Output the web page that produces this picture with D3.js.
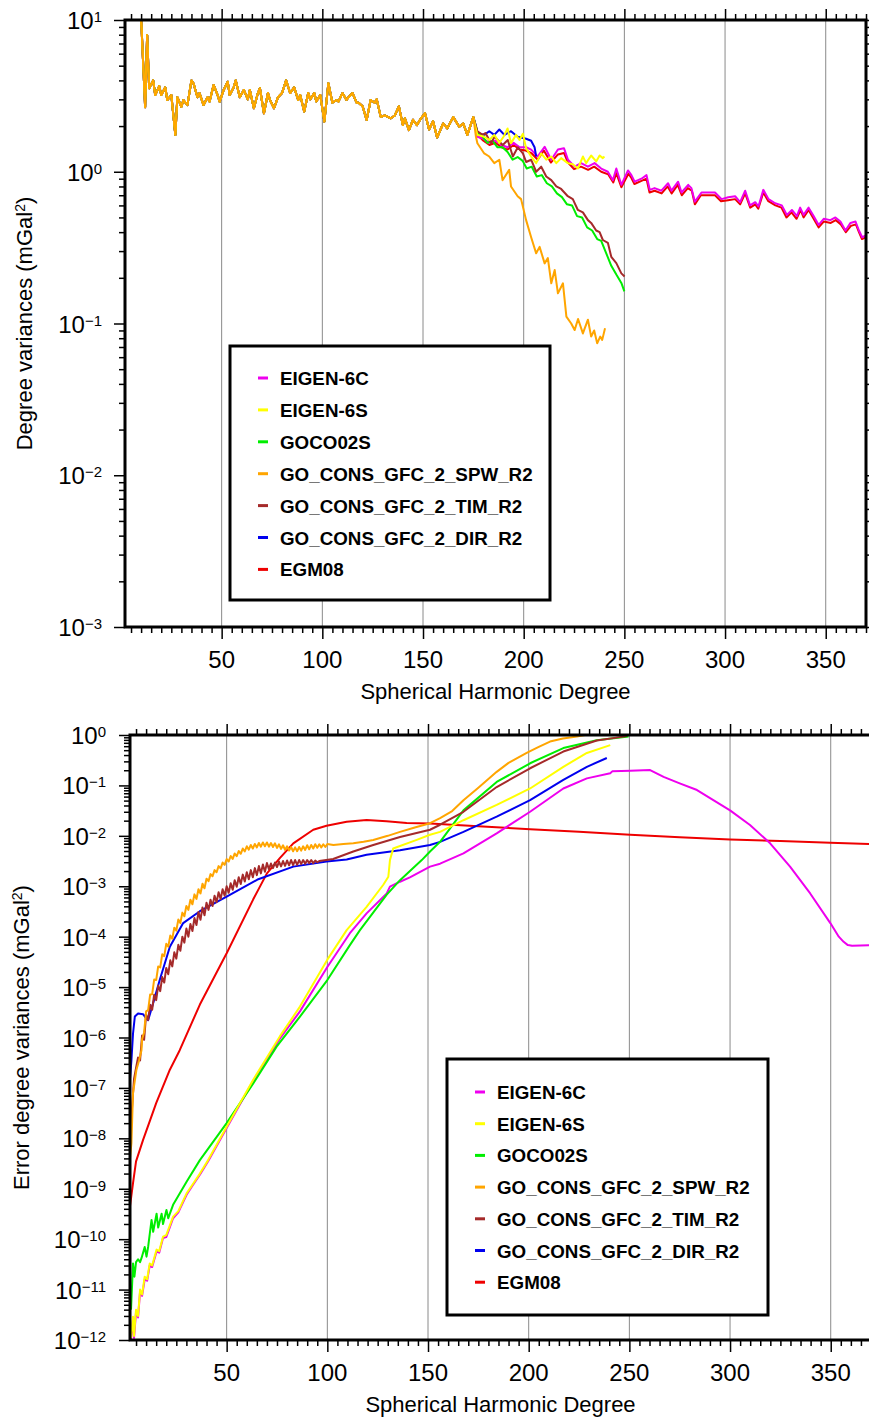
<!DOCTYPE html>
<html>
  <head>
    <meta charset="utf-8">
    <style>
    body { margin: 0; background: #fff; }
    svg text { font-family: "Liberation Sans", Arial, Helvetica, sans-serif; fill: #000; }
    .tick-label { font-size: 24px; }
    .axis-title { font-size: 22px; }
    .legend text { font-size: 18.8px; font-weight: bold; }
    </style>
  </head>
  <body>
    <div id="chart-area"></div>

    <script src="https://d3js.org/d3.v7.min.js"></script>
    <script>
      // Models, in legend order
      const seriesNames = ["EIGEN-6C", "EIGEN-6S", "GOCO02S", "GO_CONS_GFC_2_SPW_R2",
        "GO_CONS_GFC_2_TIM_R2", "GO_CONS_GFC_2_DIR_R2", "EGM08"];
      const seriesColors = ["#ee00ee", "#ffff00", "#00ee00", "#ffa500", "#a52a2a", "#0000ee", "#ee0000"];

      const degreeTicks = [50, 100, 150, 200, 250, 300, 350];
      const topDecades = [1, 0, -1, -2, -3];
      const errDecades = [0, -1, -2, -3, -4, -5, -6, -7, -8, -9, -10, -11, -12];

      // Degree variances (mGal^2): common part up to degree ~175, all models almost identical
      const sharedLow = [[2, 60], [5, 30], [8, 16], [10, 10.3], [12, 2.66], [13, 7.96], [14, 3.55], [16, 4.0],
        [17, 3.2], [19, 3.67], [20, 3.2], [22, 3.6], [23, 2.97], [25, 3.2], [27, 1.75], [28, 3.1], [30, 2.68],
        [31, 2.97], [33, 2.75], [35, 4.0], [36, 3.83], [38, 3.1], [39, 3.3], [41, 2.75], [43, 3.1], [44, 2.9],
        [46, 3.73], [48, 3.2], [49, 2.9], [51, 3.46], [53, 3.92], [54, 3.2], [56, 3.6], [57, 4.0], [59, 3.1],
        [61, 3.46], [63, 3.0], [64, 3.46], [66, 2.62], [68, 3.3], [69, 3.55], [71, 2.43], [73, 3.3], [74, 2.97],
        [76, 2.62], [78, 3.1], [80, 3.3], [82, 4.0], [84, 3.3], [86, 3.6], [88, 2.97], [89, 3.2], [91, 2.49],
        [93, 3.3], [94, 3.0], [96, 3.3], [97, 2.9], [99, 3.2], [101, 2.14], [103, 3.83], [105, 2.85], [107, 2.97],
        [108, 2.9], [110, 3.3], [112, 2.97], [113, 3.1], [115, 3.3], [117, 2.85], [118, 2.85], [120, 2.7],
        [122, 2.19], [124, 2.97], [126, 2.85], [127, 3.0], [129, 2.3], [131, 2.35], [134, 2.25], [136, 2.35],
        [138, 2.7], [140, 2.03], [141, 2.25], [143, 1.88], [145, 2.2], [147, 2.03], [149, 2.25], [151, 2.43],
        [153, 1.9], [155, 2.15], [157, 1.68], [160, 2.08], [162, 1.93], [165, 2.29], [168, 1.98], [170, 2.08],
        [172, 1.75], [175, 2.29]];

      const topEigen6cTail = [[177, 1.7], [180, 1.65], [183, 1.55], [186, 1.6], [189, 1.5], [192, 1.45], [195, 1.55],
        [198, 1.45], [201.2, 1.45], [203.7, 1.4], [206.9, 1.26], [210.4, 1.46], [213.7, 1.2], [217, 1.4],
        [220, 1.43], [222, 1.2], [225.3, 1.08], [228.5, 1.14], [231.9, 1.08], [235.2, 1.14], [238.5, 1.05],
        [241.8, 1.0], [244.3, 0.88], [246, 1.05], [248.5, 0.82], [251.8, 1.02], [253.5, 0.95], [255.1, 0.86],
        [258.5, 0.9], [261, 0.95], [262.6, 0.76], [265, 0.78], [268.4, 0.75], [271.7, 0.84], [273.4, 0.75],
        [276.7, 0.86], [278.4, 0.73], [281.7, 0.82], [283.3, 0.78], [285, 0.635], [288.3, 0.73], [291.6, 0.73],
        [295, 0.73], [298.3, 0.66], [301.6, 0.68], [305, 0.69], [307.5, 0.63], [310, 0.75], [312.4, 0.6],
        [315, 0.63], [316.6, 0.59], [319, 0.76], [321.6, 0.66], [324.9, 0.62], [328.2, 0.6], [330.7, 0.52],
        [333.2, 0.56], [335.7, 0.51], [337.3, 0.58], [339, 0.52], [341.5, 0.58], [344, 0.51], [346.5, 0.446],
        [349, 0.49], [352.3, 0.48], [354.8, 0.5], [357.3, 0.47], [359.8, 0.41], [362.3, 0.46], [364.8, 0.47],
        [366.5, 0.41], [368.1, 0.37], [370, 0.38]];
      const topEigen6sTail = [[177, 1.75], [180.4, 1.7], [182.9, 1.62], [185.4, 1.75], [187.9, 1.55], [190, 1.7],
        [192, 1.93], [193.7, 1.54], [196.2, 1.75], [197.9, 1.62], [199.6, 1.78], [201.2, 1.43], [203.7, 1.26],
        [206.2, 1.14], [208.7, 1.32], [211.2, 1.2], [213.7, 1.26], [216.2, 1.14], [218.6, 1.23], [221.9, 1.14],
        [224.4, 1.12], [226.9, 1.05], [229.4, 1.26], [231, 1.14], [233.5, 1.28], [236, 1.17], [237.7, 1.28],
        [239.3, 1.23], [240.1, 1.26]];
      const topGoco02sTail = [[177, 1.8], [179.6, 1.7], [182, 1.55], [184.5, 1.6], [187, 1.45], [189.5, 1.45],
        [192, 1.35], [194.5, 1.2], [197, 1.25], [199.5, 1.18], [201.5, 1.05], [204, 1.08], [206.5, 0.93],
        [209, 0.95], [211.5, 0.84], [214, 0.8], [216.5, 0.72], [219, 0.68], [221.5, 0.61], [224, 0.6],
        [226.5, 0.51], [229, 0.5], [231.5, 0.43], [234, 0.41], [236.5, 0.36], [238.5, 0.35], [241, 0.29],
        [243.5, 0.24], [246, 0.21], [248.5, 0.185], [250, 0.163]];
      const topSpwTail = [[176.3, 1.7], [177, 1.54], [180.4, 1.32], [182.9, 1.26], [185.4, 1.14], [187.9, 1.2],
        [189.5, 0.88], [192.8, 1.03], [193.7, 0.8], [197, 0.69], [198.7, 0.66], [201.2, 0.48], [203.7, 0.37],
        [206.2, 0.29], [207.9, 0.32], [210.4, 0.249], [212, 0.27], [213.7, 0.184], [215.4, 0.225], [217, 0.158],
        [219.5, 0.184], [221.2, 0.111], [223.6, 0.1], [225.3, 0.0905], [227, 0.107], [229.4, 0.086],
        [231.9, 0.106], [233.5, 0.082], [235, 0.09], [236.5, 0.074], [238, 0.082], [239, 0.078], [240.4, 0.093]];
      const topTimTail = [[177, 1.85], [179.6, 1.75], [181, 1.8], [183.8, 1.54], [185.5, 1.7], [187.1, 1.62],
        [189.6, 1.5], [192.1, 1.62], [194.6, 1.26], [197.1, 1.45], [199.6, 1.32], [201.2, 1.16], [203.7, 1.2],
        [206.2, 1.0], [208.7, 1.08], [211.2, 0.93], [213.7, 0.88], [216.2, 0.8], [218.6, 0.77], [221.9, 0.69],
        [224.4, 0.66], [226.9, 0.56], [229.4, 0.54], [231.9, 0.48], [233.5, 0.46], [236, 0.41], [237.7, 0.4],
        [239.3, 0.355], [241.8, 0.34], [243.5, 0.275], [246, 0.25], [248.5, 0.214], [250.1, 0.204]];
      const topDirTail = [[176.3, 2.0], [177, 1.8], [180.4, 1.75], [182.9, 1.85], [185.4, 1.75], [187.9, 1.9],
        [190.4, 1.75], [193.7, 1.85], [197, 1.7], [201.2, 1.65], [203.7, 1.6], [205.4, 1.45], [206.2, 1.26]];
      const topEgm08Tail = [[177, 1.75], [180, 1.6], [183, 1.5], [186, 1.55], [189, 1.45], [192, 1.4], [195, 1.5],
        [198, 1.4], [201, 1.38], [204, 1.32], [207, 1.2], [210, 1.38], [213.5, 1.15], [217, 1.3], [220, 1.33],
        [222, 1.15], [225, 1.04], [228.5, 1.08], [232, 1.03], [235, 1.08], [238.5, 1.0], [242, 0.96],
        [244.5, 0.85], [246, 0.98], [248.5, 0.79], [252, 0.97], [253.5, 0.91], [255, 0.83], [258.5, 0.87],
        [261, 0.9], [262.5, 0.73], [265, 0.75], [268.5, 0.72], [271.5, 0.8], [273.5, 0.72], [276.5, 0.82],
        [278.5, 0.7], [281.5, 0.78], [283.5, 0.75], [285, 0.61], [288, 0.7], [291.5, 0.7], [295, 0.7],
        [298, 0.64], [301.5, 0.65], [305, 0.66], [307.5, 0.61], [310, 0.72], [312.5, 0.58], [315, 0.61],
        [316.5, 0.57], [319, 0.73], [321.5, 0.64], [325, 0.6], [328, 0.58], [330.5, 0.5], [333, 0.54],
        [335.5, 0.49], [337.5, 0.56], [339, 0.5], [341.5, 0.56], [344, 0.49], [346.5, 0.43], [349, 0.47],
        [352.5, 0.46], [355, 0.48], [357.5, 0.45], [360, 0.4], [362.5, 0.44], [365, 0.45], [366.5, 0.4],
        [368, 0.36], [370, 0.37]];

      // Error degree variances (mGal^2)
      const errEigen6c = [[2.5, 1.05e-12], [3.5, 2.6e-12], [4, 1.1e-12], [5, 3.6e-12], [6, 2.8e-12], [7, 9e-12],
        [8, 7.5e-12], [9.3, 1.6e-11], [10.5, 1.5e-11], [11.8, 3e-11], [13, 2.8e-11], [15.2, 5.7e-11],
        [16.5, 5.4e-11], [18.4, 1.05e-10], [20, 1.1e-10], [23.4, 2.6e-10], [26, 3.4e-10], [30.1, 7.6e-10],
        [33, 1.15e-9], [36.7, 1.9e-9], [40.8, 3.5e-9], [50, 1.6e-8], [63.2, 1.38e-7], [76.4, 9.5e-7],
        [86.4, 3.3e-6], [100, 2.5e-5], [111.2, 1.17e-4], [119.5, 2.9e-4], [129.5, 7.2e-4], [131.1, 9.8e-4],
        [136.1, 1.23e-3], [141, 1.5e-3], [151, 2.45e-3], [156, 2.8e-3], [167.6, 4.5e-3], [184.1, 1.12e-2],
        [200.7, 3.0e-2], [217.2, 8.7e-2], [228.9, 1.38e-1], [240.5, 1.74e-1], [241.5, 1.9e-1], [250.4, 1.95e-1],
        [260.3, 2.02e-1], [267, 1.48e-1], [275, 1.1e-1], [283.6, 8.1e-2], [300, 3.2e-2], [309.9, 1.64e-2],
        [319.9, 7.1e-3], [329.8, 2.45e-3], [339.8, 7.2e-4], [349.8, 1.86e-4], [354, 1e-4], [356.4, 7.9e-5],
        [358.5, 6.8e-5], [360.6, 6.6e-5], [370, 6.8e-5]];
      const errEigen6s = [[2.5, 1.1e-12], [3.5, 2.9e-12], [4, 1.2e-12], [5, 4e-12], [6, 3e-12], [7, 1e-11],
        [8, 8e-12], [9.3, 1.8e-11], [10.5, 1.6e-11], [11.8, 3.3e-11], [13, 3e-11], [15.2, 6.2e-11],
        [16.5, 5.8e-11], [18.4, 1.12e-10], [20, 1.2e-10], [23.4, 2.8e-10], [26, 3.6e-10], [30.1, 8.1e-10],
        [33, 1.2e-9], [36.7, 2e-9], [40.8, 3.7e-9], [50, 1.7e-8], [63.2, 1.45e-7], [76.4, 1.05e-6],
        [86.4, 4.1e-6], [100, 3.5e-5], [109.6, 1.35e-4], [119.5, 3.9e-4], [127.8, 1.07e-3], [130.3, 1.55e-3],
        [131.1, 3.3e-3], [132.7, 5.6e-3], [144.4, 8.3e-3], [151, 1.05e-2], [156, 1.2e-2], [167.6, 2.04e-2],
        [184.1, 4.1e-2], [200.7, 8.7e-2], [217.2, 2.34e-1], [228.9, 4.4e-1], [240.5, 6.3e-1]];
      const errGoco02s = [[2.5, 4e-12], [3.5, 3.3e-11], [4.2, 1.8e-11], [5, 3.5e-11], [6, 4e-11], [7, 3.5e-11],
        [7.7, 4.2e-11], [9.3, 7e-11], [10.2, 4.5e-11], [11, 7e-11], [12.7, 2.4e-10], [13.5, 1.4e-10],
        [15.2, 3.2e-10], [16, 1.7e-10], [17.7, 3.2e-10], [18.4, 2e-10], [20.1, 3.8e-10], [21, 2.6e-10],
        [21.8, 3.2e-10], [23.4, 4.8e-10], [30.1, 1.38e-9], [36.7, 3.7e-9], [50, 2e-8], [63.2, 1.23e-7],
        [74.8, 6.6e-7], [86.4, 2.6e-6], [100, 1.38e-5], [111.2, 6.8e-5], [116.2, 1.35e-4], [129.5, 6.8e-4],
        [136.1, 1.32e-3], [146.9, 3.3e-3], [151, 4.9e-3], [156, 7.6e-3], [167.6, 3.2e-2], [184.1, 1.17e-1],
        [200.7, 2.75e-1], [217.2, 5.5e-1], [233.8, 7.9e-1], [249.6, 9.3e-1]];
      const errSpw = [[2, 4e-9], [2.7, 8e-9], [3.5, 8e-8], [5.2, 2.3e-7], [6.5, 3.5e-7], [7.7, 5.6e-7],
        [8, 9.3e-7], [9, 1.26e-6], [10, 3.3e-6], [11, 3.5e-6], [12, 7.1e-6], [13, 7.2e-6], [14, 1.41e-5],
        [15, 1.38e-5], [16, 2.57e-5], [17, 2.45e-5], [18, 4.47e-5], [19, 4.1e-5], [20, 7.2e-5], [21, 6.3e-5],
        [22, 1.05e-4], [23, 9.1e-5], [24, 1.51e-4], [25, 1.32e-4], [26, 2.19e-4], [27, 1.86e-4], [28, 3.0e-4],
        [29, 2.54e-4], [30, 4.07e-4], [31, 3.4e-4], [32, 5.4e-4], [33, 4.4e-4], [34, 6.9e-4], [35, 5.6e-4],
        [36, 8.7e-4], [37, 7.2e-4], [38, 1.12e-3], [39, 9.1e-4], [40, 1.41e-3], [41, 1.26e-3], [42, 1.74e-3],
        [43, 1.58e-3], [44, 2.09e-3], [45, 1.9e-3], [46, 2.51e-3], [47, 2.26e-3], [48, 2.95e-3], [49, 2.66e-3],
        [50, 3.47e-3], [51, 3.09e-3], [52, 3.98e-3], [53, 3.5e-3], [54, 4.47e-3], [55, 3.94e-3], [56, 5.0e-3],
        [57, 4.4e-3], [58, 5.6e-3], [59, 4.9e-3], [60, 6.2e-3], [61, 5.3e-3], [62, 6.6e-3], [63, 5.6e-3],
        [64, 6.9e-3], [65, 5.9e-3], [66, 7.2e-3], [67, 6.1e-3], [68, 7.4e-3], [69, 6.2e-3], [70, 7.4e-3],
        [71, 6.1e-3], [72, 7.2e-3], [73, 6.0e-3], [74, 7.1e-3], [75, 5.75e-3], [76, 6.8e-3], [77, 5.5e-3],
        [78, 6.5e-3], [79, 5.25e-3], [80, 6.2e-3], [81, 5.1e-3], [82, 6.0e-3], [83, 4.95e-3], [84, 5.9e-3],
        [85, 4.95e-3], [86, 6.0e-3], [87, 5.1e-3], [88, 6.2e-3], [89, 5.25e-3], [90, 6.5e-3], [91, 5.4e-3],
        [92, 6.6e-3], [93, 5.6e-3], [94, 6.8e-3], [95, 5.8e-3], [96, 6.8e-3], [97, 5.9e-3], [98, 6.8e-3],
        [99, 6.0e-3], [100, 6.9e-3], [103, 6.6e-3], [108, 6.9e-3], [112.9, 7.1e-3], [118, 7.6e-3],
        [122.8, 8.3e-3], [130, 1.0e-2], [136.1, 1.2e-2], [143, 1.45e-2], [151, 1.78e-2], [156, 2.24e-2],
        [162, 3.1e-2], [167.6, 5.1e-2], [175, 9e-2], [184.1, 1.86e-1], [190, 2.8e-1], [199, 4.4e-1],
        [205, 5.8e-1], [210.6, 7.4e-1], [217, 8.5e-1], [223.9, 9.3e-1], [228, 1.0]];
      const errTim = [[2, 1.2e-8], [3, 4e-8], [4, 1.5e-7], [5, 2.5e-7], [6, 4e-7], [7, 3.5e-7], [8, 1.1e-6],
        [9, 9e-7], [10, 2.82e-6], [11, 2.24e-6], [12, 4.47e-6], [13, 3.55e-6], [14, 7.08e-6], [15, 5.5e-6],
        [16, 1.07e-5], [17, 8.3e-6], [18, 1.58e-5], [19, 1.23e-5], [20, 2.4e-5], [21, 1.8e-5], [22, 3.4e-5],
        [23, 2.57e-5], [24, 4.9e-5], [25, 3.67e-5], [26, 6.9e-5], [27, 5.25e-5], [28, 1.0e-4], [29, 7.6e-5],
        [30, 1.45e-4], [31, 1.0e-4], [32, 1.78e-4], [33, 1.29e-4], [34, 2.34e-4], [35, 1.7e-4], [36, 3.1e-4],
        [37, 2.16e-4], [38, 3.8e-4], [39, 2.66e-4], [40, 4.7e-4], [41, 3.4e-4], [42, 5.4e-4], [43, 4.07e-4],
        [44, 6.5e-4], [45, 4.84e-4], [46, 7.6e-4], [47, 5.6e-4], [48, 8.7e-4], [49, 6.5e-4], [50, 1.0e-3],
        [51, 7.4e-4], [52, 1.15e-3], [53, 8.5e-4], [54, 1.32e-3], [55, 9.8e-4], [56, 1.51e-3], [57, 1.11e-3],
        [58, 1.7e-3], [59, 1.24e-3], [60, 1.9e-3], [61, 1.38e-3], [62, 2.09e-3], [63, 1.51e-3], [64, 2.29e-3],
        [65, 1.66e-3], [66, 2.51e-3], [67, 1.8e-3], [68, 2.69e-3], [69, 1.93e-3], [70, 2.88e-3], [71, 2.19e-3],
        [72, 2.82e-3], [73, 2.29e-3], [74, 2.95e-3], [75, 2.4e-3], [76, 3.09e-3], [77, 2.48e-3], [78, 3.16e-3],
        [79, 2.54e-3], [80, 3.24e-3], [81, 2.6e-3], [82, 3.31e-3], [83, 2.63e-3], [84, 3.31e-3], [85, 2.66e-3],
        [86, 3.31e-3], [87, 2.75e-3], [88, 3.31e-3], [89, 2.79e-3], [90, 3.31e-3], [91, 2.88e-3], [92, 3.31e-3],
        [93, 2.88e-3], [94, 3.24e-3], [95, 2.99e-3], [96, 3.16e-3], [102.9, 3.47e-3], [112.9, 4.9e-3],
        [122.8, 6.6e-3], [136.1, 9.5e-3], [151, 1.32e-2], [156, 1.66e-2], [167.6, 3.0e-2], [184.1, 9.3e-2],
        [200.7, 2.19e-1], [217.2, 4.7e-1], [233.8, 7.8e-1], [248.8, 9.5e-1]];
      const errDir = [[2, 1.5e-7], [2.7, 3.5e-7], [3.5, 1.2e-6], [4.4, 2.6e-6], [6, 3e-6], [8.5, 2.9e-6],
        [10, 2.4e-6], [11, 2.2e-6], [13.5, 4.8e-6], [16.8, 1.4e-5], [21.8, 6.3e-5], [28.4, 1.86e-4],
        [36.7, 3.2e-4], [50, 6.2e-4], [65.7, 1.38e-3], [83.1, 2.45e-3], [99.6, 3.1e-3], [109.6, 3.4e-3],
        [119.5, 4.2e-3], [136.1, 5.2e-3], [151, 6.6e-3], [156, 7.6e-3], [167.6, 1.2e-2], [184.1, 2.4e-2],
        [200.7, 5.1e-2], [217.2, 1.29e-1], [228.9, 2.34e-1], [238.8, 3.5e-1]];
      const errEgm08 = [[2, 4.5e-10], [3.5, 1.3e-9], [5, 3.5e-9], [8.5, 9.3e-9], [12, 2.3e-8], [15, 5e-8],
        [21.8, 2.3e-7], [26.7, 5.6e-7], [36.7, 4.5e-6], [50, 4.7e-5], [63.2, 5.5e-4], [70, 1.8e-3],
        [76.4, 3.6e-3], [83.1, 7.1e-3], [93, 1.32e-2], [99.6, 1.58e-2], [109.6, 1.9e-2], [119.5, 2.06e-2],
        [129.4, 1.95e-2], [139.4, 1.8e-2], [151, 1.75e-2], [175, 1.55e-2], [200.7, 1.35e-2], [225, 1.2e-2],
        [250.4, 1.05e-2], [275, 9.4e-3], [300, 8.5e-3], [325, 7.9e-3], [349.8, 7.3e-3], [370, 6.9e-3]];

      const width = 869;
      const height = 1418;
      // which model is painted first (EGM08) ... last (SPW)
      const drawOrder = [6, 0, 5, 2, 4, 1, 3];

      const svg = d3.select("#chart-area")
        .append("svg")
          .attr("width", width)
          .attr("height", height);

      const panels = [
        {
          id: "top",
          left: 125, right: 866, top: 20, bottom: 627,
          decades: topDecades,
          yTitle: "Degree variances (mGal",
          yTitleX: 32,
          labelX: 102,
          rightTicks: true,
          legend: { x: 230, y: 346, w: 320, h: 254, row0: 378, step: 31.9, markX: 258, textX: 280 },
          series: [
            sharedLow.concat(topEigen6cTail),
            sharedLow.concat(topEigen6sTail),
            sharedLow.concat(topGoco02sTail),
            sharedLow.concat(topSpwTail),
            sharedLow.concat(topTimTail),
            sharedLow.concat(topDirTail),
            sharedLow.concat(topEgm08Tail)
          ]
        },
        {
          id: "bottom",
          left: 130, right: 871, top: 735, bottom: 1340,
          decades: errDecades,
          yTitle: "Error degree variances (mGal",
          yTitleX: 29,
          labelX: 106,
          rightTicks: false,
          legend: { x: 447, y: 1059, w: 321, h: 256, row0: 1092, step: 31.7, markX: 475, textX: 497 },
          series: [errEigen6c, errEigen6s, errGoco02s, errSpw, errTim, errDir, errEgm08]
        }
      ];

      function expLabel(e) {
        return e < 0 ? "\u2212" + (-e) : String(e);
      }

      function drawPanel(p) {
        const g = svg.append("g");

        const x = d3.scaleLinear().domain([2, 370]).range([p.left, p.right]);
        const y = d3.scaleLog()
          .domain([Math.pow(10, d3.min(p.decades)), Math.pow(10, d3.max(p.decades))])
          .range([p.bottom, p.top]);

        const minorX = d3.range(5, 371, 5).filter(d => d % 50 !== 0);
        const minorY = [];
        p.decades.slice(1).forEach(e => {
          for (let m = 2; m <= 9; m++) minorY.push(m * Math.pow(10, e));
        });
        const majorY = p.decades.map(e => Math.pow(10, e));

        // vertical grid
        g.append("g").selectAll("line")
          .data(degreeTicks)
          .join("line")
            .attr("x1", d => x(d)).attr("x2", d => x(d))
            .attr("y1", p.top).attr("y2", p.bottom)
            .attr("stroke", "#8a8a8a")
            .attr("stroke-width", 1);

        // curves
        g.append("clipPath").attr("id", "clip-" + p.id)
          .append("rect")
            .attr("x", p.left).attr("y", p.top)
            .attr("width", p.right - p.left).attr("height", p.bottom - p.top);

        const line = d3.line().x(d => x(d[0])).y(d => y(d[1]));

        g.append("g")
          .attr("clip-path", `url(#clip-${p.id})`)
          .selectAll("path")
          .data(drawOrder)
          .join("path")
            .attr("d", i => line(p.series[i]))
            .attr("fill", "none")
            .attr("stroke", i => seriesColors[i])
            .attr("stroke-width", 2)
            .attr("stroke-linejoin", "round");

        // ticks through d3 axes
        function ticks(axis, transform, values, size) {
          g.append("g")
            .attr("transform", transform)
            .call(axis.tickValues(values).tickSize(size).tickSizeOuter(0).tickFormat(""))
            .call(a => a.select(".domain").remove())
            .call(a => a.selectAll("line").attr("stroke", "#000").attr("stroke-width", 1.5));
        }
        ticks(d3.axisBottom(x), `translate(0,${p.bottom})`, minorX, 6);
        ticks(d3.axisBottom(x), `translate(0,${p.bottom})`, degreeTicks, 12);
        ticks(d3.axisTop(x), `translate(0,${p.top})`, minorX, 6);
        ticks(d3.axisTop(x), `translate(0,${p.top})`, degreeTicks, 11);
        ticks(d3.axisLeft(y), `translate(${p.left},0)`, minorY, 6);
        ticks(d3.axisLeft(y), `translate(${p.left},0)`, majorY, 11);
        if (p.rightTicks) {
          ticks(d3.axisRight(y), `translate(${p.right},0)`, minorY, 6);
          ticks(d3.axisRight(y), `translate(${p.right},0)`, majorY, 11);
        }

        // frame
        g.append("rect")
          .attr("x", p.left).attr("y", p.top)
          .attr("width", p.right - p.left).attr("height", p.bottom - p.top)
          .attr("fill", "none")
          .attr("stroke", "#000")
          .attr("stroke-width", 3);

        // tick labels
        g.append("g").selectAll("text")
          .data(degreeTicks)
          .join("text")
            .attr("class", "tick-label")
            .attr("x", d => x(d))
            .attr("y", p.bottom + 41)
            .attr("text-anchor", "middle")
            .text(d => d);

        const yLabels = g.append("g").selectAll("text")
          .data(p.decades)
          .join("text")
            .attr("class", "tick-label")
            .attr("x", p.labelX)
            .attr("y", d => y(Math.pow(10, d)) + 9)
            .attr("text-anchor", "end");
        yLabels.append("tspan").text("10");
        yLabels.append("tspan")
          .attr("dy", -7)
          .attr("font-size", 15)
          .text(d => expLabel(d));

        // axis titles
        g.append("text")
          .attr("class", "axis-title")
          .attr("x", (p.left + p.right) / 2)
          .attr("y", p.bottom + 72)
          .attr("text-anchor", "middle")
          .text("Spherical Harmonic Degree");

        const yt = g.append("text")
          .attr("class", "axis-title")
          .attr("text-anchor", "middle")
          .attr("transform", `translate(${p.yTitleX},${(p.top + p.bottom) / 2}) rotate(-90)`);
        yt.append("tspan").text(p.yTitle);
        yt.append("tspan").attr("dy", -7).attr("font-size", 14).text("2");
        yt.append("tspan").attr("dy", 7).text(")");

        // legend
        const lg = p.legend;
        const legend = g.append("g").attr("class", "legend");
        legend.append("rect")
          .attr("x", lg.x).attr("y", lg.y)
          .attr("width", lg.w).attr("height", lg.h)
          .attr("fill", "#fff")
          .attr("stroke", "#000")
          .attr("stroke-width", 3);

        const rows = legend.selectAll("g.row")
          .data(seriesNames)
          .join("g")
            .attr("class", "row")
            .attr("transform", (d, i) => `translate(0,${lg.row0 + i * lg.step})`);
        rows.append("line")
          .attr("x1", lg.markX).attr("x2", lg.markX + 10)
          .attr("stroke", (d, i) => seriesColors[i])
          .attr("stroke-width", 3);
        rows.append("text")
          .attr("x", lg.textX)
          .attr("y", 7)
          .text(d => d);
      }

      panels.forEach(drawPanel);
    </script>
  </body>
</html>
